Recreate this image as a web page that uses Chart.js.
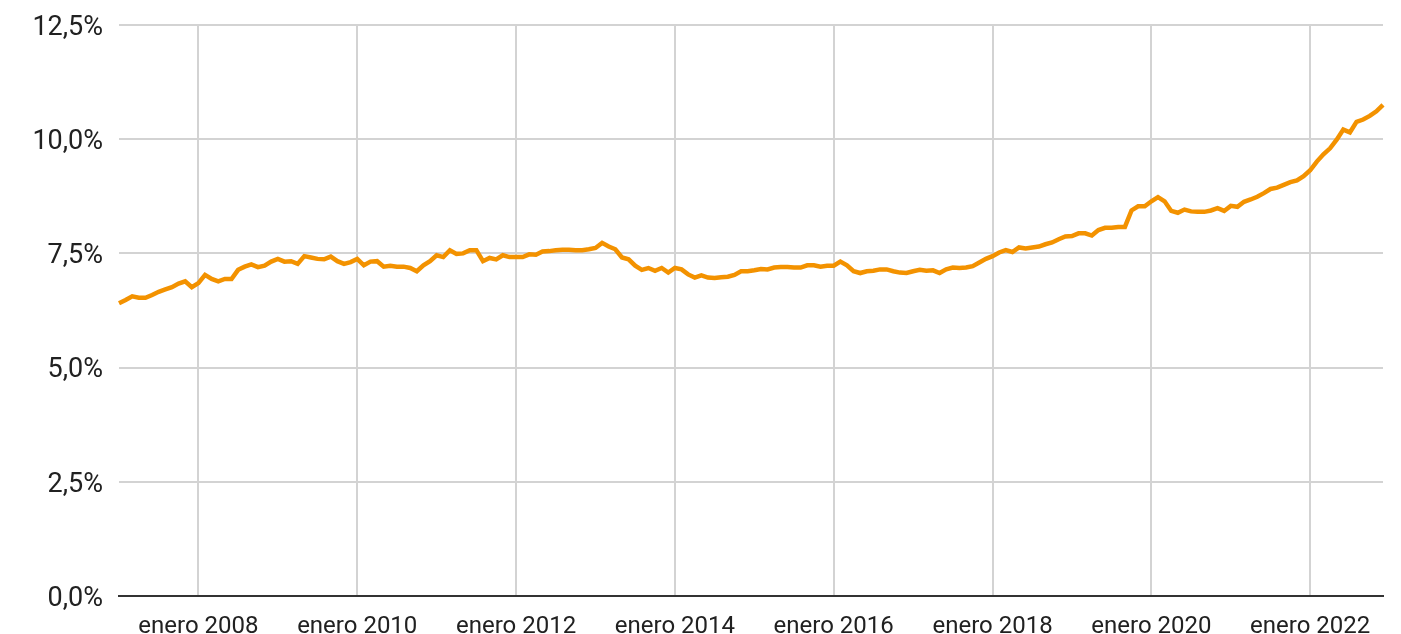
<!DOCTYPE html>
<html>
<head>
<meta charset="utf-8">
<script src="https://cdn.jsdelivr.net/npm/chart.js@4.4.1/dist/chart.umd.min.js"></script>
<style>
  html, body { margin: 0; padding: 0; background: #ffffff; }
  #wrap { width: 1401px; height: 634px; position: relative; }
</style>
</head>
<body>
<div id="wrap"><canvas id="c" width="1401" height="634"></canvas></div>
<script>
// Category pieces: Spanish month names and years covered (enero 2007 - diciembre 2022)
const monthNames = ["enero","febrero","marzo","abril","mayo","junio","julio","agosto","septiembre","octubre","noviembre","diciembre"];
const years = [2007,2008,2009,2010,2011,2012,2013,2014,2015,2016,2017,2018,2019,2020,2021,2022];

// Monthly values (%), one row per year
const v2007 = [6.41,6.48,6.56,6.53,6.53,6.59,6.66,6.71,6.76,6.84,6.89,6.76];
const v2008 = [6.85,7.03,6.94,6.89,6.94,6.94,7.14,7.21,7.26,7.20,7.23,7.32];
const v2009 = [7.38,7.32,7.33,7.27,7.44,7.41,7.38,7.37,7.43,7.33,7.27,7.31];
const v2010 = [7.38,7.24,7.32,7.33,7.21,7.23,7.21,7.21,7.18,7.11,7.24,7.33];
const v2011 = [7.46,7.42,7.57,7.49,7.50,7.57,7.57,7.33,7.40,7.37,7.46,7.42];
const v2012 = [7.42,7.42,7.48,7.47,7.54,7.55,7.57,7.58,7.58,7.57,7.57,7.59];
const v2013 = [7.62,7.73,7.65,7.59,7.41,7.37,7.23,7.14,7.18,7.12,7.18,7.08];
const v2014 = [7.18,7.15,7.04,6.97,7.02,6.97,6.96,6.98,6.99,7.03,7.11,7.11];
const v2015 = [7.13,7.16,7.15,7.19,7.20,7.20,7.19,7.19,7.24,7.24,7.21,7.23];
const v2016 = [7.23,7.32,7.24,7.11,7.07,7.11,7.12,7.15,7.15,7.11,7.08,7.07];
const v2017 = [7.11,7.14,7.12,7.13,7.07,7.15,7.19,7.18,7.19,7.22,7.30,7.38];
const v2018 = [7.44,7.52,7.57,7.53,7.63,7.61,7.63,7.65,7.70,7.74,7.81,7.87];
const v2019 = [7.88,7.94,7.94,7.89,8.01,8.06,8.06,8.08,8.08,8.44,8.53,8.53];
const v2020 = [8.64,8.73,8.64,8.43,8.39,8.46,8.42,8.41,8.41,8.44,8.49,8.43];
const v2021 = [8.54,8.52,8.63,8.68,8.74,8.82,8.91,8.94,9.00,9.06,9.10,9.19];
const v2022 = [9.32,9.51,9.67,9.80,9.99,10.21,10.15,10.38,10.43,10.51,10.61,10.75];

// Y tick values
const yTicks = [0, 2.5, 5, 7.5, 10, 12.5];

const labels = [];
years.forEach(y => monthNames.forEach(m => labels.push(m + " " + y)));
const values = [].concat(v2007,v2008,v2009,v2010,v2011,v2012,v2013,v2014,v2015,v2016,v2017,v2018,v2019,v2020,v2021,v2022);

const fmt = v => v.toFixed(1).replace(".", ",") + "%";

new Chart(document.getElementById("c"), {
  type: "line",
  data: {
    labels: labels,
    datasets: [{
      data: values,
      borderColor: "#F39200",
      borderWidth: 4.5,
      pointRadius: 0,
      tension: 0,
      fill: false
    }]
  },
  options: {
    responsive: false,
    animation: false,
    devicePixelRatio: 1,
    layout: { padding: { top: 25, right: 18, left: 0, bottom: 0 } },
    plugins: { legend: { display: false }, tooltip: { enabled: false } },
    scales: {
      x: {
        type: "category",
        offset: false,
        afterFit: s => { s.height = 38; s.paddingLeft = 0; s.paddingRight = 0; },
        grid: {
          color: "#d3d3d3",
          lineWidth: 2,
          drawTicks: false,
          offset: false
        },
        border: { display: true, color: "#333333", width: 2 },
        ticks: {
          autoSkip: false,
          maxRotation: 0,
          minRotation: 0,
          padding: 17,
          color: "#212121",
          font: { family: "Roboto", size: 24 },
          callback: function (val, idx) {
            const lab = labels[idx];
            const yr = years[Math.floor(idx / 12)];
            return (idx % 12 === 0 && yr % 2 === 0) ? lab : null;
          }
        }
      },
      y: {
        min: 0,
        max: 12.5,
        afterFit: s => { s.width = 119; s.paddingTop = 0; s.paddingBottom = 0; },
        afterBuildTicks: s => { s.ticks = yTicks.map(v => ({ value: v })); },
        grid: {
          color: ctx => (ctx.tick && ctx.tick.value === 0) ? "rgba(0,0,0,0)" : "#d3d3d3",
          lineWidth: 2,
          drawTicks: false
        },
        border: { display: false },
        ticks: {
          padding: 16,
          labelOffset: 3,
          color: "#212121",
          font: { family: "Roboto", size: 27 },
          callback: v => fmt(v)
        }
      }
    }
  }
});
</script>
</body>
</html>
